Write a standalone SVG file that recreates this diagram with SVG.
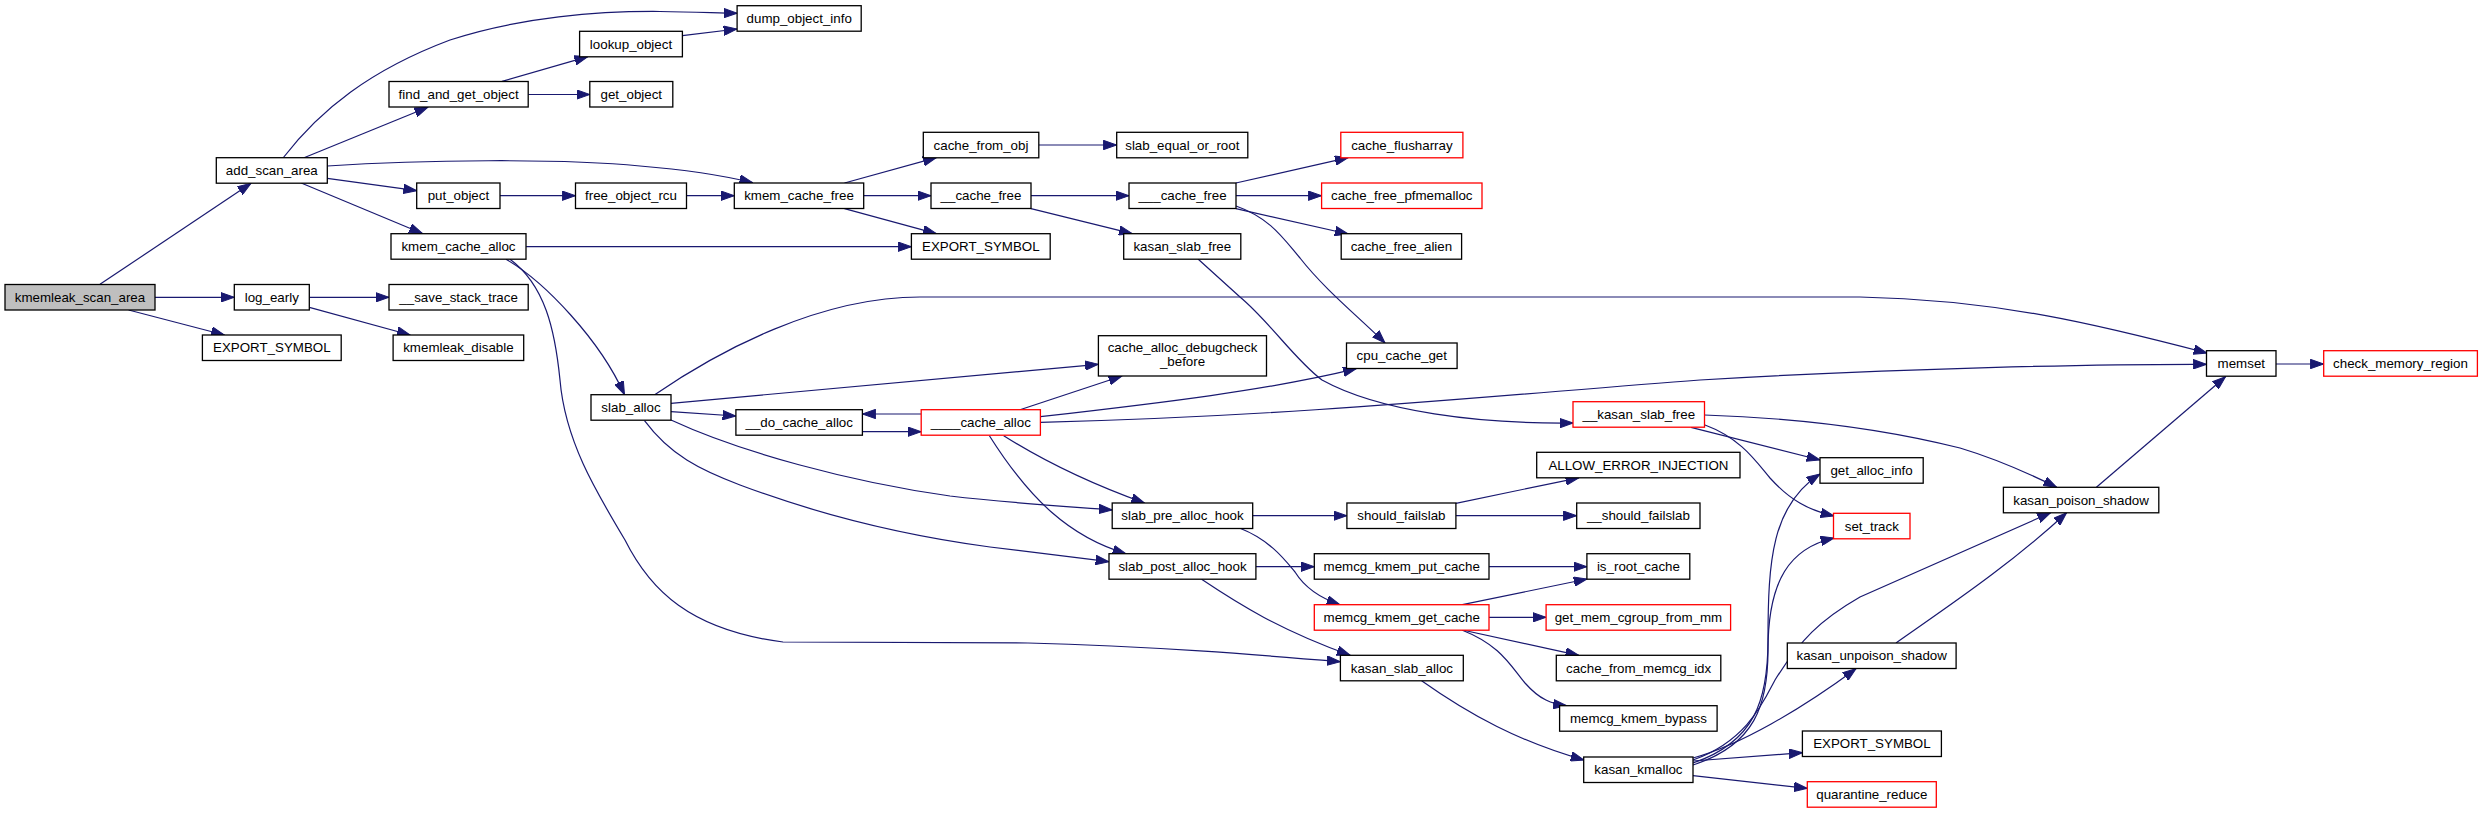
<svg xmlns="http://www.w3.org/2000/svg" width="2483" height="813" viewBox="0 0 2483 813">
<style>
.n rect{fill:#fff;stroke:#000;stroke-width:1.3}
.n.r rect{stroke:#f00}
.n.root rect{fill:#bfbfbf}
text{font-family:"Liberation Sans",Arial,Helvetica,sans-serif;font-size:13.33px;text-anchor:middle;fill:#000}
#edges path{fill:none;stroke:#191970;stroke-width:1.2;marker-end:url(#ah)}
</style>
<defs>
<marker id="ah" viewBox="0 0 14 10" refX="13.3" refY="5" markerWidth="14" markerHeight="10" markerUnits="userSpaceOnUse" orient="auto">
<path d="M0,0.3 L13.3,5 L0,9.7 z" fill="#191970" stroke="#191970" stroke-width="1"/>
</marker>
</defs>
<rect width="2483" height="813" fill="#fff"/>
<g id="edges">
<path d="M100,284.3 L251,183.3"/>
<path d="M154.7,297.3 L234.3,297.3"/>
<path d="M128.6,310 L224.5,335"/>
<path d="M309.4,297.3 L389,297.3"/>
<path d="M309.4,307.3 L410.2,335"/>
<path d="M283,158 C320,110 370,70 450,40 C520,17 600,11 660,11.5 C695,12 718,13 737.1,13.3"/>
<path d="M304,157.7 L427.8,107.3"/>
<path d="M327.3,166 C420,160 560,158 640,166 C690,170 725,176 752.7,182.7"/>
<path d="M327.3,178.3 L416.7,190.7"/>
<path d="M301.2,183 L422.4,233.5"/>
<path d="M502,81.3 L587.8,56.7"/>
<path d="M528.2,94.5 L589.8,94.5"/>
<path d="M682.4,35.7 L737.1,29"/>
<path d="M500,195.7 L575.5,195.7"/>
<path d="M686.5,195.7 L734.3,195.7"/>
<path d="M844.5,183 L936.3,157.7"/>
<path d="M863.7,195.7 L931,195.7"/>
<path d="M844.5,208.7 L936.3,233.7"/>
<path d="M526.1,246.7 L911.4,246.7"/>
<path d="M1038.8,145 L1116.7,145"/>
<path d="M1031,195.7 L1129,195.7"/>
<path d="M1031,208.7 L1132.2,233.7"/>
<path d="M1235.9,183 L1348.2,157.7"/>
<path d="M1235.9,195.7 L1321.6,195.7"/>
<path d="M1235.9,208.7 L1348.2,234"/>
<path d="M1236,206 C1270,218 1283,238 1300,258 C1325,290 1360,318 1385,343"/>
<path d="M1198,259 L1240,297 C1270,322 1295,360 1322,380 C1380,412 1480,424 1573,423"/>
<path d="M506,259.2 C545,282 600,340 624.5,394.7"/>
<path d="M510,259.2 C545,285 555,330 560,380 C565,440 595,490 625,540 C650,590 690,630 783,642 L1028,643 C1150,646 1260,655 1340.4,661.7"/>
<path d="M654.7,394.7 C720,350 820,297 920,297 L1860,297 C2000,300 2100,325 2207,353"/>
<path d="M671,403.3 L1098.4,364.3"/>
<path d="M671,411.7 L735.9,416"/>
<path d="M671,420 C740,452 850,482 950,496 C1010,503 1060,506 1112.2,510"/>
<path d="M644.5,420.7 C670,455 700,470 740,485 C820,515 900,535 990,547 C1040,553 1080,558 1109,561.7"/>
<path d="M862.4,431.7 L921.2,431.7"/>
<path d="M921.2,414 L862.4,414"/>
<path d="M1020,409.7 L1122,376"/>
<path d="M1040.4,416.7 C1160,403 1270,390 1356.3,368.7"/>
<path d="M1040.4,422.3 C1300,416 1500,395 1700,380 C1900,368 2100,364 2206.5,364.3"/>
<path d="M1003.7,435.7 C1050,465 1100,487 1144.5,503"/>
<path d="M989.4,435.7 C1030,500 1070,537 1126,553.7"/>
<path d="M1252.7,515.7 L1346.9,515.7"/>
<path d="M1240,528.3 C1270,540 1285,560 1295,572 C1305,588 1320,598 1340,604.7"/>
<path d="M1255.9,566.7 L1314.3,566.7"/>
<path d="M1201.6,579.3 C1240,605 1280,630 1350.2,655.3"/>
<path d="M1455.9,503.3 L1578.8,477.8"/>
<path d="M1455.9,515.7 L1576.7,515.7"/>
<path d="M1489,566.7 L1586.9,566.7"/>
<path d="M1462.4,604.7 L1587,579"/>
<path d="M1489,617.3 L1546.1,617.3"/>
<path d="M1462.4,630 L1578.8,655.3"/>
<path d="M1462.4,630.2 C1500,645 1510,665 1525,683 C1540,700 1552,704 1566.5,705.7"/>
<path d="M1421.6,680.7 C1470,715 1520,742 1584,760"/>
<path d="M1693,763 C1755,742 1768,700 1768,640 C1768,560 1772,505 1820,474"/>
<path d="M1693,765 C1755,745 1768,705 1768,650 C1768,580 1790,548 1834,538"/>
<path d="M1693,760 C1745,742 1762,705 1775,680 C1800,640 1820,620 1860,597 L2050.7,512.7"/>
<path d="M1693,758 C1740,745 1800,710 1856,668.7"/>
<path d="M1693,761 L1802.4,752.7"/>
<path d="M1693,775.7 L1807.3,788.3"/>
<path d="M1704.5,415 C1800,418 1880,428 1960,448 C2000,460 2030,474 2056.7,487.3"/>
<path d="M1691,427.3 L1820,460"/>
<path d="M1705,425 C1740,438 1755,460 1770,478 C1790,500 1808,510 1834,516"/>
<path d="M1896,643 C1950,605 2010,565 2066.6,512.7"/>
<path d="M2096.4,487.3 L2225.5,376.7"/>
<path d="M2276,364 L2323.7,364"/>
</g>
<g id="n_kmemleak_scan_area" class="n root"><rect x="5" y="284.5" width="150" height="25.5"/><text x="80" y="301.7">kmemleak_scan_area</text></g>
<g id="n_add_scan_area" class="n"><rect x="216.3" y="157.7" width="111" height="25.5"/><text x="271.8" y="174.9">add_scan_area</text></g>
<g id="n_log_early" class="n"><rect x="234.3" y="284.5" width="75" height="25.5"/><text x="271.8" y="301.7">log_early</text></g>
<g id="n_export_symbol_1" class="n"><rect x="202.4" y="335" width="138.8" height="25.5"/><text x="271.8" y="352.2">EXPORT_SYMBOL</text></g>
<g id="n_find_and_get_object" class="n"><rect x="389" y="81.5" width="139.2" height="25.5"/><text x="458.6" y="98.7">find_and_get_object</text></g>
<g id="n_put_object" class="n"><rect x="416.7" y="183" width="83.3" height="25.5"/><text x="458.4" y="200.2">put_object</text></g>
<g id="n_kmem_cache_alloc" class="n"><rect x="391" y="233.7" width="135" height="25.5"/><text x="458.5" y="250.9">kmem_cache_alloc</text></g>
<g id="n_save_stack_trace" class="n"><rect x="389" y="284.5" width="139.2" height="25.5"/><text x="458.6" y="301.7">__save_stack_trace</text></g>
<g id="n_kmemleak_disable" class="n"><rect x="393.1" y="335" width="130.6" height="25.5"/><text x="458.4" y="352.2">kmemleak_disable</text></g>
<g id="n_lookup_object" class="n"><rect x="579.6" y="31.3" width="102.8" height="25.5"/><text x="631" y="48.5">lookup_object</text></g>
<g id="n_get_object" class="n"><rect x="589.8" y="81.5" width="83" height="25.5"/><text x="631.3" y="98.7">get_object</text></g>
<g id="n_free_object_rcu" class="n"><rect x="575.5" y="183" width="111" height="25.5"/><text x="631" y="200.2">free_object_rcu</text></g>
<g id="n_slab_alloc" class="n"><rect x="591" y="394.7" width="80" height="25.5"/><text x="631" y="411.9">slab_alloc</text></g>
<g id="n_dump_object_info" class="n"><rect x="737.1" y="5.7" width="124.1" height="25.5"/><text x="799.2" y="22.9">dump_object_info</text></g>
<g id="n_kmem_cache_free" class="n"><rect x="734.3" y="183" width="129.4" height="25.5"/><text x="799" y="200.2">kmem_cache_free</text></g>
<g id="n_do_cache_alloc" class="n"><rect x="735.9" y="409.7" width="126.5" height="25.5"/><text x="799.2" y="426.9">__do_cache_alloc</text></g>
<g id="n_cache_from_obj" class="n"><rect x="923.3" y="132.3" width="115.5" height="25.5"/><text x="981" y="149.5">cache_from_obj</text></g>
<g id="n___cache_free" class="n"><rect x="931" y="183" width="100" height="25.5"/><text x="981" y="200.2">__cache_free</text></g>
<g id="n_export_symbol_2" class="n"><rect x="911.4" y="233.7" width="138.8" height="25.5"/><text x="980.8" y="250.9">EXPORT_SYMBOL</text></g>
<g id="n____cache_alloc" class="n r"><rect x="921.2" y="409.7" width="119.2" height="25.5"/><text x="980.8" y="426.9">____cache_alloc</text></g>
<g id="n_slab_equal_or_root" class="n"><rect x="1116.7" y="132.3" width="131.1" height="25.5"/><text x="1182.3" y="149.5">slab_equal_or_root</text></g>
<g id="n____cache_free" class="n"><rect x="1129" y="183" width="107" height="25.5"/><text x="1182.5" y="200.2">___cache_free</text></g>
<g id="n_kasan_slab_free" class="n"><rect x="1123.7" y="233.7" width="117.1" height="25.5"/><text x="1182.3" y="250.9">kasan_slab_free</text></g>
<g id="n_cache_alloc_debugcheck_before" class="n"><rect x="1098.4" y="335.7" width="168.1" height="40.3"/><text x="1182.5" y="351.5">cache_alloc_debugcheck</text><text x="1182.5" y="365.8">_before</text></g>
<g id="n_slab_pre_alloc_hook" class="n"><rect x="1112.2" y="503" width="140.5" height="25.5"/><text x="1182.5" y="520.2">slab_pre_alloc_hook</text></g>
<g id="n_slab_post_alloc_hook" class="n"><rect x="1109" y="553.7" width="146.9" height="25.5"/><text x="1182.5" y="570.9">slab_post_alloc_hook</text></g>
<g id="n_cache_flusharray" class="n r"><rect x="1340.8" y="132.3" width="122.1" height="25.5"/><text x="1401.9" y="149.5">cache_flusharray</text></g>
<g id="n_cache_free_pfmemalloc" class="n r"><rect x="1321.6" y="183" width="160.4" height="25.5"/><text x="1401.8" y="200.2">cache_free_pfmemalloc</text></g>
<g id="n_cache_free_alien" class="n"><rect x="1341.2" y="233.7" width="120.4" height="25.5"/><text x="1401.4" y="250.9">cache_free_alien</text></g>
<g id="n_cpu_cache_get" class="n"><rect x="1346.5" y="343" width="110.6" height="25.5"/><text x="1401.8" y="360.2">cpu_cache_get</text></g>
<g id="n_should_failslab" class="n"><rect x="1346.9" y="503" width="109" height="25.5"/><text x="1401.4" y="520.2">should_failslab</text></g>
<g id="n_memcg_kmem_put_cache" class="n"><rect x="1314.3" y="553.7" width="174.7" height="25.5"/><text x="1401.7" y="570.9">memcg_kmem_put_cache</text></g>
<g id="n_memcg_kmem_get_cache" class="n r"><rect x="1314.3" y="604.7" width="174.7" height="25.5"/><text x="1401.7" y="621.9">memcg_kmem_get_cache</text></g>
<g id="n_kasan_slab_alloc" class="n"><rect x="1340.4" y="655.3" width="122.9" height="25.5"/><text x="1401.9" y="672.5">kasan_slab_alloc</text></g>
<g id="n___kasan_slab_free" class="n r"><rect x="1573" y="401.7" width="131.5" height="25.5"/><text x="1638.8" y="418.9">__kasan_slab_free</text></g>
<g id="n_allow_error_injection" class="n"><rect x="1536.7" y="452.3" width="203.3" height="25.5"/><text x="1638.4" y="469.5">ALLOW_ERROR_INJECTION</text></g>
<g id="n___should_failslab" class="n"><rect x="1576.7" y="503" width="123.3" height="25.5"/><text x="1638.4" y="520.2">__should_failslab</text></g>
<g id="n_is_root_cache" class="n"><rect x="1586.9" y="553.7" width="102.9" height="25.5"/><text x="1638.4" y="570.9">is_root_cache</text></g>
<g id="n_get_mem_cgroup_from_mm" class="n r"><rect x="1546.1" y="604.7" width="184.5" height="25.5"/><text x="1638.4" y="621.9">get_mem_cgroup_from_mm</text></g>
<g id="n_cache_from_memcg_idx" class="n"><rect x="1556.3" y="655.3" width="164.5" height="25.5"/><text x="1638.6" y="672.5">cache_from_memcg_idx</text></g>
<g id="n_memcg_kmem_bypass" class="n"><rect x="1559.6" y="705.7" width="157.5" height="25.5"/><text x="1638.4" y="722.9">memcg_kmem_bypass</text></g>
<g id="n_kasan_kmalloc" class="n"><rect x="1583.7" y="757" width="109.3" height="25.5"/><text x="1638.4" y="774.2">kasan_kmalloc</text></g>
<g id="n_get_alloc_info" class="n"><rect x="1820" y="457.7" width="103.2" height="25.5"/><text x="1871.6" y="474.9">get_alloc_info</text></g>
<g id="n_set_track" class="n r"><rect x="1833.5" y="513.3" width="76.5" height="25.5"/><text x="1871.8" y="530.5">set_track</text></g>
<g id="n_kasan_unpoison_shadow" class="n"><rect x="1787.3" y="643" width="168.8" height="25.5"/><text x="1871.7" y="660.2">kasan_unpoison_shadow</text></g>
<g id="n_export_symbol_3" class="n"><rect x="1802.4" y="731" width="139" height="25.5"/><text x="1871.9" y="748.2">EXPORT_SYMBOL</text></g>
<g id="n_quarantine_reduce" class="n r"><rect x="1807.3" y="781.7" width="129" height="25.5"/><text x="1871.8" y="798.9">quarantine_reduce</text></g>
<g id="n_kasan_poison_shadow" class="n"><rect x="2003.4" y="487.3" width="155.4" height="25.5"/><text x="2081.1" y="504.5">kasan_poison_shadow</text></g>
<g id="n_memset" class="n"><rect x="2206.5" y="350.7" width="69.5" height="25.5"/><text x="2241.3" y="367.9">memset</text></g>
<g id="n_check_memory_region" class="n r"><rect x="2323.7" y="350.7" width="153.7" height="25.5"/><text x="2400.5" y="367.9">check_memory_region</text></g>
</svg>
